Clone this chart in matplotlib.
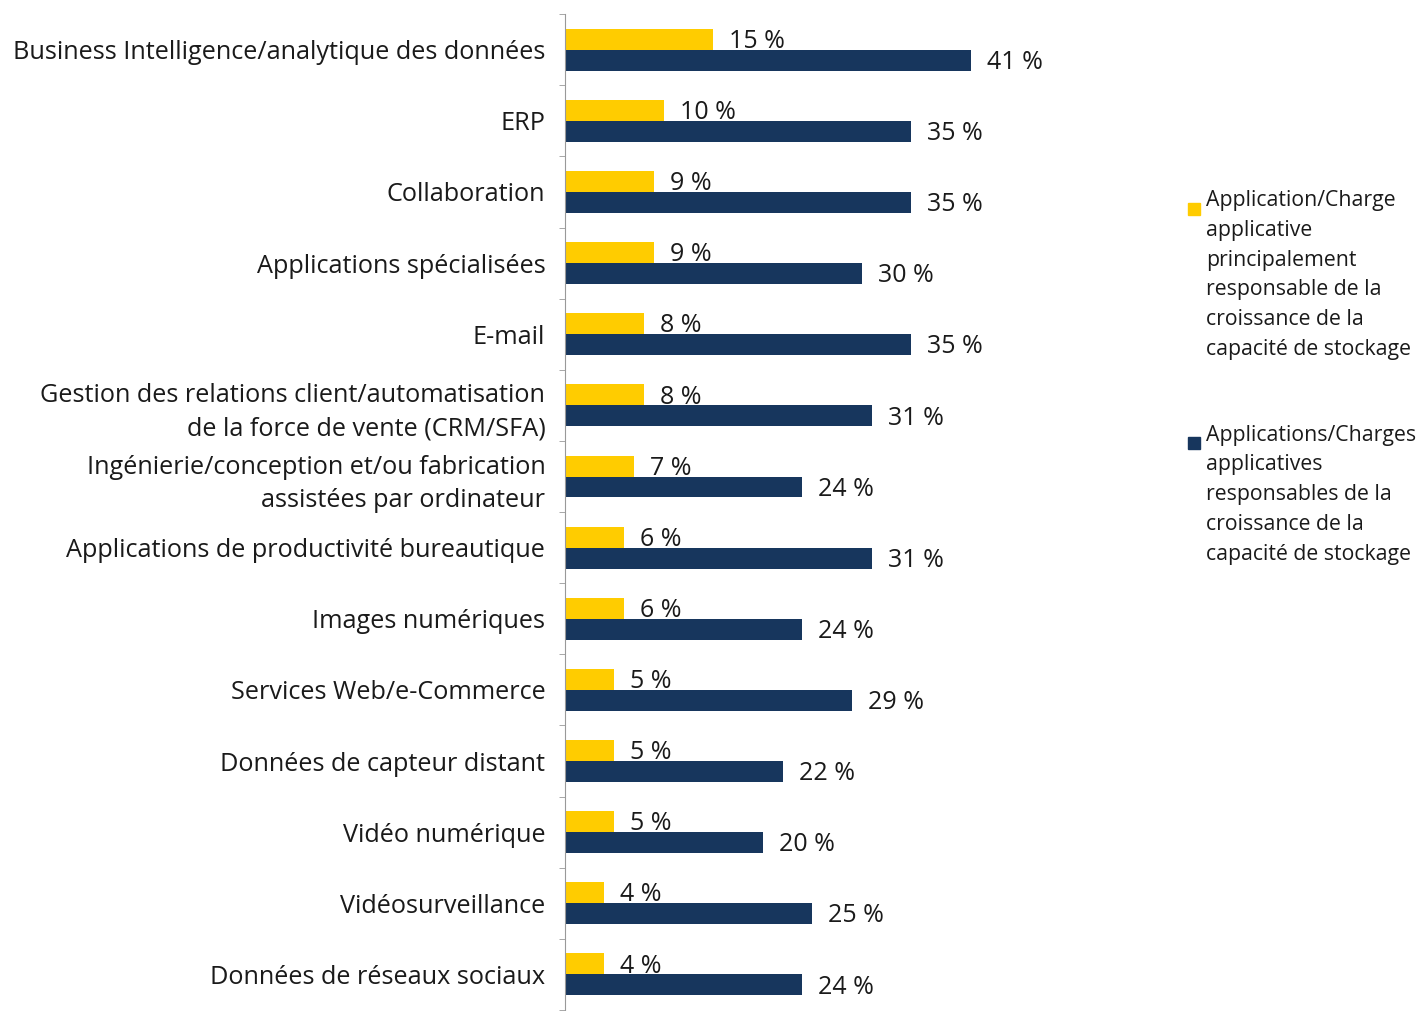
import matplotlib.pyplot as plt
from matplotlib.patches import Rectangle
import numpy as np

plt.rcParams['font.family'] = ['Open Sans', 'DejaVu Sans']

categories = [
    "Business Intelligence/analytique des données",
    "ERP",
    "Collaboration",
    "Applications spécialisées",
    "E-mail",
    "Gestion des relations client/automatisation\nde la force de vente (CRM/SFA)",
    "Ingénierie/conception et/ou fabrication\nassistées par ordinateur",
    "Applications de productivité bureautique",
    "Images numériques",
    "Services Web/e-Commerce",
    "Données de capteur distant",
    "Vidéo numérique",
    "Vidéosurveillance",
    "Données de réseaux sociaux",
]
principal = [15, 10, 9, 9, 8, 8, 7, 6, 6, 5, 5, 5, 4, 4]
responsables = [41, 35, 35, 30, 35, 31, 24, 31, 24, 29, 22, 20, 25, 24]

label_principal = ("Application/Charge\napplicative\nprincipalement\nresponsable de la\n"
                   "croissance de la\ncapacité de stockage")
label_resp = ("Applications/Charges\napplicatives\nresponsables de la\n"
              "croissance de la\ncapacité de stockage")

yellow = "#FFCC00"
navy = "#17365D"
txt = "#1a1a1a"

fig = plt.figure(figsize=(14.19, 10.11), dpi=100)
ax = fig.add_axes([0.398, 0.001, 0.349, 0.985])

y = np.arange(len(categories))
h = 0.295
b1 = ax.barh(y - h / 2, principal, height=h, color=yellow)
b2 = ax.barh(y + h / 2, responsables, height=h, color=navy)

for yi, v in zip(y, principal):
    ax.text(v + 1.6, yi - h / 2 + 0.03, f"{v} %", va="center", ha="left", fontsize=18, color=txt)
for yi, v in zip(y, responsables):
    ax.text(v + 1.6, yi + h / 2 + 0.03, f"{v} %", va="center", ha="left", fontsize=18, color=txt)

ax.set_ylim(len(categories) - 0.5, -0.5)
ax.set_xlim(0, 50)
ax.set_yticks(y)
ax.set_yticklabels(categories, fontsize=18.2, color=txt, linespacing=1.45)
ax.set_yticks(np.arange(len(categories) + 1) - 0.5, minor=True)
ax.tick_params(axis="y", which="major", length=0, pad=14)
ax.tick_params(axis="y", which="minor", length=4, color="#999999")
ax.set_xticks([])
for s in ["top", "right", "bottom"]:
    ax.spines[s].set_visible(False)
ax.spines["left"].set_color("#999999")

# legend, drawn by hand so the swatch sits on the first line
for (ytop, col, lab) in [(0.795, yellow, label_principal), (0.563, navy, label_resp)]:
    fig.patches.append(Rectangle((1188 / 1419, ytop - 0.0075), 12 / 1419, 0.0119,
                                 transform=fig.transFigure, color=col))
    fig.text(1206 / 1419, ytop + 0.017, lab, ha="left", va="top", fontsize=15.3,
             color=txt, linespacing=1.55)

fig.savefig("out.png", dpi=100)
